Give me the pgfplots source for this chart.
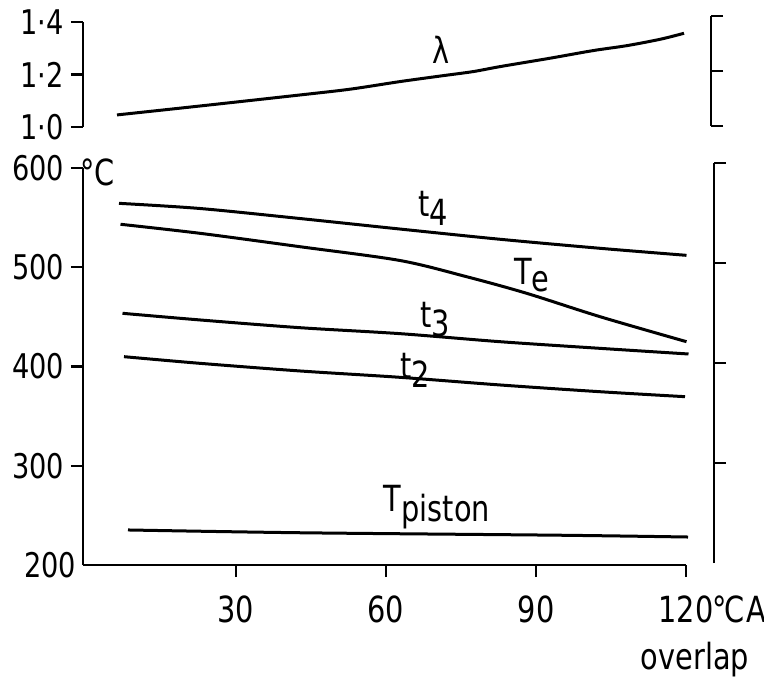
\documentclass[border=0pt]{standalone}
\usepackage{fontspec}
\setmainfont{DejaVu Sans}[FakeStretch=0.8]
\usepackage{pgfplots}
\pgfplotsset{compat=1.18}
\begin{document}
\begin{tikzpicture}[font=\fontsize{18}{18}\selectfont]
\pgfplotsset{
  base/.style={scale only axis, width=301.5pt, xmin=-0.6, xmax=120, clip=false,
    /pgf/number format/assume math mode=true,
    tick align=outside, major tick length=6pt,
    tick style={line width=1.1pt, black},
    axis line style={line width=1.1pt, black},
  },
  curve/.style={black, line width=1.5pt, mark=none, smooth},
}
\path[use as bounding box] (-41.5pt,-60.5pt) rectangle (340.5pt,282.5pt);

% main temperature axis
\begin{axis}[base, at={(0pt,0pt)}, anchor=south west, height=198.5pt, ymin=200, ymax=600,
  axis x line*=bottom, axis y line*=left,
  xtick={30,60,90,120}, xticklabels={30,60,90,{120\rlap{\kern-0.5pt°\kern-1pt C\kern1pt A}}},
  ytick={300,400,500,600}, yticklabels={300,400,500,600},
  extra y ticks={200}, extra y tick labels={200}, extra y tick style={major tick length=0pt},
  xticklabel style={font=\fontsize{18}{18}\selectfont, yshift=-6pt},
  yticklabel style={font=\fontsize{17}{17}\selectfont},
]
% t4
\addplot[curve] coordinates {(6.6,564.4) (22.8,559.2) (42.8,549.1) (62.8,538.5) (82.8,528.2) (102.8,519.1) (120.1,512.0)};
% Te
\addplot[curve] coordinates {(6.9,543.3) (22.8,534.2) (42.8,520.7) (62.8,506.8) (76.1,490.5) (88.1,473.8) (102.8,450.2) (120.1,425.0)};
% t3
\addplot[curve] coordinates {(7.3,453.6) (22.8,446.9) (42.8,439.1) (62.8,433.1) (82.8,425.0) (102.8,418.3) (120.5,412.6)};
% t2
\addplot[curve] coordinates {(7.6,409.9) (22.8,403.2) (42.8,395.5) (62.8,389.1) (82.8,381.4) (102.8,374.6) (119.8,369.6)};
% Tpiston
\addplot[curve] coordinates {(8.4,235.3) (42.8,232.5) (94.8,230.0) (120.4,228.2)};
\node at (axis cs:69.4,559.7) {t\raisebox{-0.45ex}{4}};
\node at (axis cs:89.2,492.2) {T\raisebox{-0.35ex}{e}};
\node at (axis cs:69.8,446.9) {t\raisebox{-0.45ex}{3}};
\node at (axis cs:65.8,396.5) {t\raisebox{-0.45ex}{2}};
\node at (axis cs:70.2,258.4) {T\raisebox{-0.5ex}{piston}};
\node[anchor=west, inner sep=0pt] at (axis cs:-1.2,596) {°C};
\node at (axis cs:121.8,104.3) {overlap};
\end{axis}

% main right bracket
\begin{axis}[base, at={(0pt,1pt)}, anchor=south west, width=315.5pt, xmin=0, xmax=1,
  height=200pt, ymin=200, ymax=600,
  hide x axis, axis y line*=right, ytick={300,400,500,600}, yticklabels={}]
\end{axis}

% lambda axis
\begin{axis}[base, at={(0pt,219pt)}, anchor=south west, height=52.5pt, ymin=1.0, ymax=1.4,
  hide x axis, axis y line*=left, ytick={1.0,1.2,1.4}, yticklabels={1·0,1·2,1·4},
  yticklabel style={font=\fontsize{17}{17}\selectfont}]
\addplot[curve] coordinates {(6.2,1.046) (22.8,1.080) (42.8,1.122) (52.8,1.144) (62.8,1.173) (70.8,1.194) (77.4,1.211) (82.8,1.230) (92.8,1.262) (101.4,1.291) (108.2,1.310) (114.8,1.334) (119.6,1.357)};
\node at (axis cs:71,1.293) {λ};
\end{axis}

% lambda right bracket
\begin{axis}[base, at={(0pt,219.5pt)}, anchor=south west, width=314pt, xmin=0, xmax=1,
  height=55pt, ymin=1.0, ymax=1.4,
  hide x axis, axis y line*=right, ytick={1.0,1.2,1.4}, yticklabels={}]
\end{axis}
\end{tikzpicture}
\end{document}
